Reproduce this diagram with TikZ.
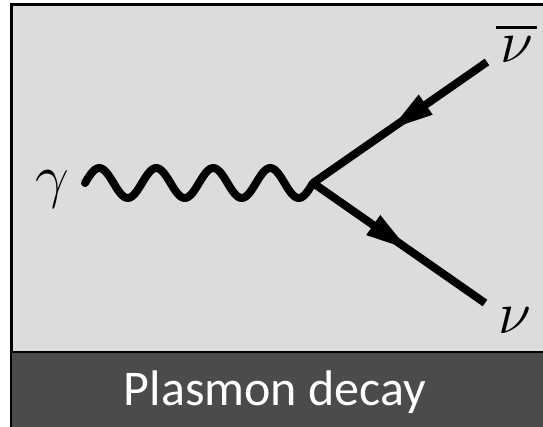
\documentclass[tikz,border=0pt]{standalone}
\usepackage{fix-cm}
\usepackage{fontspec}
\newfontfamily\capfont{Carlito}
\usetikzlibrary{arrows.meta,decorations.markings}
\definecolor{panelgray}{HTML}{DCDCDC}
\definecolor{bandgray}{HTML}{4B4B4B}
\tikzset{
  fermion/.style={line width=8pt, postaction={decorate},
    decoration={markings, mark=at position #1 with {\arrow{Triangle[length=44pt,width=22pt]}}}},
  lbl/.style={inner sep=0pt, anchor=base, font=\fontsize{60}{72}\selectfont},
}
\begin{document}
\begin{tikzpicture}[x=1pt,y=-1pt]
\useasboundingbox (0,0) rectangle (543,426);
\fill[white] (0,0) rectangle (543,426);
\filldraw[fill=panelgray, draw=black, line width=3pt] (11,4) rectangle (548,432);
\filldraw[fill=bandgray, draw=black, line width=2.5pt] (11,352) rectangle (548,432);
\coordinate (v) at (313,183);
\coordinate (wstart) at (85,183);
\coordinate (nbarend) at (487,62);
\coordinate (nuend) at (485,303);
\draw[line width=8pt, line cap=round, line join=round]
  plot[smooth, domain=0:4, samples=120] ({85+57*\x},{183-15*sin(\x*360)});
\draw[fermion=0.56] (nbarend) -- (v);
\draw[fermion=0.56] (v) -- (nuend);
\node[lbl] (gam) at (52,196) {$\gamma$};
\node[lbl] (nbar) at (517,62) {$\nu$};
\draw[line width=3pt] ([xshift=-4pt,yshift=8pt]nbar.north west) -- ([xshift=3pt,yshift=8pt]nbar.north east);
\node[lbl] (nu) at (515,333) {$\nu$};
\node[inner sep=0pt, anchor=base, text=white, font=\capfont\fontsize{50}{60}\selectfont] (title) at (275,405) {Plasmon decay};
\end{tikzpicture}
\end{document}
